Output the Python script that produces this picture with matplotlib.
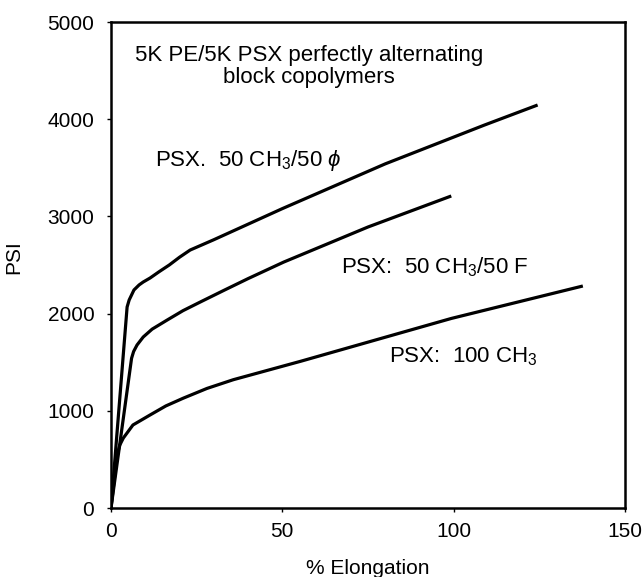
import matplotlib
matplotlib.use("Agg")
import matplotlib.pyplot as plt

plt.rcParams['font.family'] = ['Liberation Sans', 'DejaVu Sans']
plt.rcParams['mathtext.fontset'] = 'custom'
plt.rcParams['mathtext.rm'] = 'Liberation Sans'
plt.rcParams['mathtext.it'] = 'Liberation Sans:italic'

# Data
x_phenyl = [0, 4.7, 5.3, 6.7, 8.2, 9.4, 11.4, 14.0, 17.0, 20.0, 23.1, 30.0, 50.0, 80.0, 109.0, 124.5]
y_phenyl = [0, 2068, 2140, 2243, 2295, 2325, 2366, 2430, 2500, 2580, 2654, 2760, 3080, 3540, 3940, 4146]

x_fluoro = [0, 6.0, 6.6, 7.6, 9.4, 12.0, 16.4, 21.0, 26.1, 33.0, 40.0, 50.4, 75.0, 99.3]
y_fluoro = [0, 1540, 1610, 1677, 1759, 1840, 1934, 2030, 2120, 2240, 2360, 2530, 2891, 3210]

x_methyl = [0, 1.8, 2.6, 3.6, 6.4, 11.4, 16.0, 21.1, 28.0, 35.7, 55.4, 99.3, 137.7]
y_methyl = [0, 550, 650, 720, 854, 957, 1050, 1130, 1230, 1320, 1510, 1950, 2284]

x_ticks = [0, 50, 100, 150]
y_ticks = [0, 1000, 2000, 3000, 4000, 5000]

fig = plt.figure(figsize=(6.44, 5.77), dpi=100)
ax = fig.add_axes([111/644, 1-508/577, 514/644, 486/577])

for xs, ys in [(x_phenyl, y_phenyl), (x_fluoro, y_fluoro), (x_methyl, y_methyl)]:
    ax.plot(xs, ys, color='black', lw=2.3, solid_capstyle='butt', solid_joinstyle='round')

ax.set_xlim(0, 150)
ax.set_ylim(0, 5000)
ax.set_xticks(x_ticks)
ax.set_yticks(y_ticks)
ax.tick_params(axis='both', direction='out', length=3, width=1, labelsize=15)
ax.tick_params(axis='x', pad=7)
ax.tick_params(axis='y', pad=9)
for s in ax.spines.values():
    s.set_linewidth(1.8)

ax.set_xlabel('% Elongation', fontsize=15)
ax.xaxis.set_label_coords(0.5, -0.105)
ax.set_ylabel('PSI', fontsize=15)
ax.yaxis.set_label_coords(-0.171, 0.516)

ax.text(57.7, 4542, '5K PE/5K PSX perfectly alternating\nblock copolymers',
        fontsize=16, ha='center', va='center', linespacing=1.05)
ax.text(12.9, 3580, 'PSX.  50 CH$_3$/50 $\\phi$', fontsize=16, ha='left', va='center')
ax.text(67.1, 2479, 'PSX:  50 CH$_3$/50 F', fontsize=16, ha='left', va='center')
ax.text(81.2, 1553, 'PSX:  100 CH$_3$', fontsize=16, ha='left', va='center')

fig.savefig('out.png', dpi=100)
